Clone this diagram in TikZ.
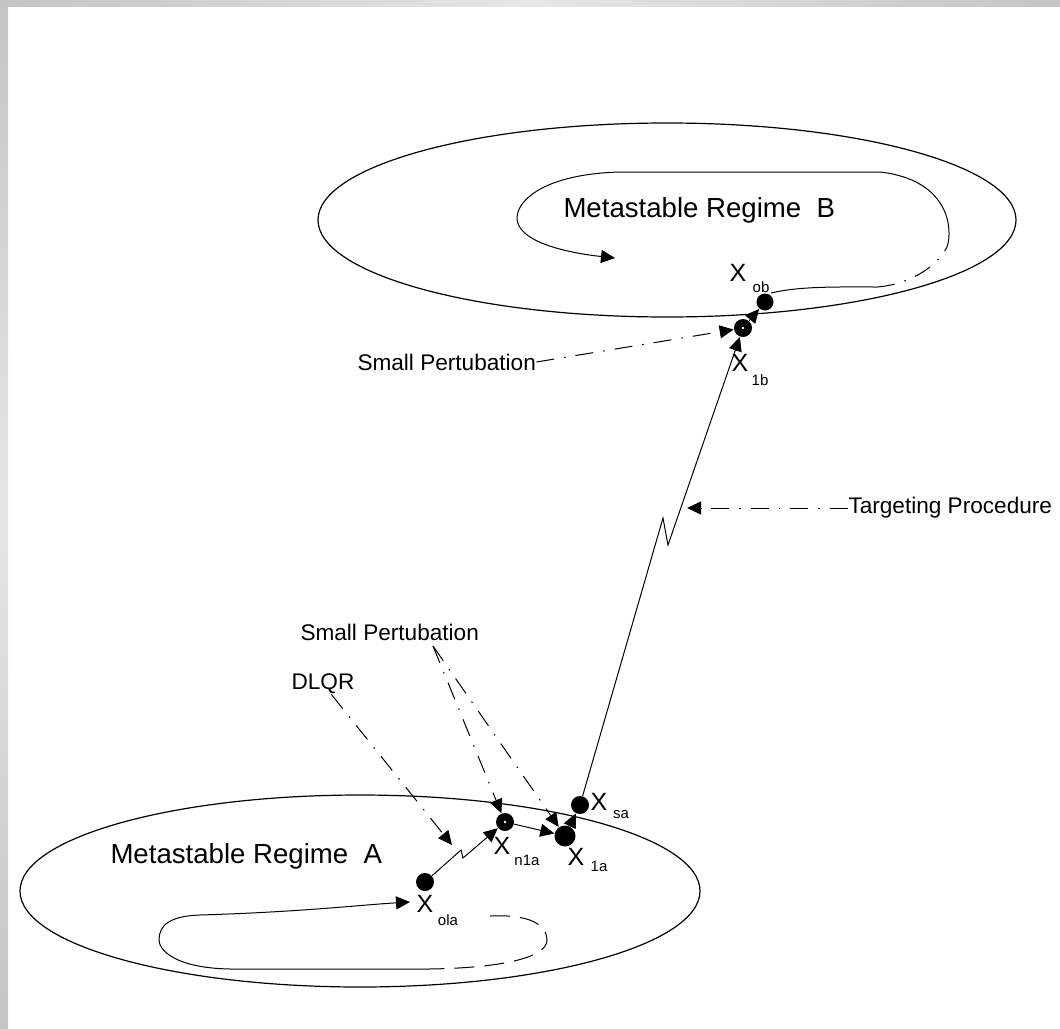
\documentclass[tikz,border=0pt]{standalone}
\usepackage{fontspec}
\setmainfont{Liberation Sans}
\usetikzlibrary{arrows.meta}

\definecolor{framegray}{RGB}{196,196,196}
\definecolor{framelight}{RGB}{230,230,230}

\tikzset{
  regime/.style={draw, line width=0.6pt},
  bigdot/.style={circle, fill=black, inner sep=0pt, minimum size=8.5pt},
  ringdot/.style={circle, fill=black, inner sep=0pt, minimum size=9pt,
    path picture={\fill[white] (path picture bounding box.center) circle (0.7pt);}},
  regtext/.style={font=\fontsize{13.8}{16}\selectfont, inner sep=0pt},
  note/.style={font=\fontsize{11.3}{13}\selectfont, inner sep=0pt},
  xlab/.style={font=\fontsize{12.5}{14}\selectfont, inner sep=0pt},
  sublab/.style={font=\fontsize{7.5}{9}\selectfont, inner sep=0pt},
  pertline/.style={dash pattern=on 9pt off 5pt on 0.8pt off 5pt},
  orbitdash/.style={dash pattern=on 10pt off 5pt}
}

\begin{document}
\begin{tikzpicture}[x=0.5pt, y=-0.5pt, line width=0.5pt,
    >={Triangle[length=7pt,width=6.5pt]}]

    \useasboundingbox (0,0) rectangle (1060,1028);

    % grey frame on the left and top
    \shade[top color=framegray, bottom color=framegray, middle color=framelight]
        (0,0) rectangle (8,1028);
    \shade[left color=framegray, right color=framegray, middle color=framelight]
        (0,0) rectangle (1060,6);

    % the two regimes
    \draw[regime] (667,220) ellipse [x radius=349, y radius=97];
    \draw[regime] (360,891) ellipse [x radius=340, y radius=96];

    \node[regtext, anchor=west] (regB) at (563,210) {Metastable Regime\ \ B};
    \node[regtext, anchor=west] (regA) at (110,856) {Metastable Regime\ \ A};

    % states
    \node[bigdot] (xob) at (765,302) {};
    \node[ringdot] (x1b) at (743,328) {};
    \node[bigdot, minimum size=9pt] (xsa) at (580,805) {};
    \node[bigdot, minimum size=10.5pt] (x1a) at (565,836) {};
    \node[ringdot] (xn1a) at (505,822) {};
    \node[bigdot, minimum size=9pt] (x0la) at (425,882) {};

    \node[xlab] (lob) at (738,273) {X};
    \node[sublab] at (761,287) {ob};
    \node[xlab] (l1b) at (740,363) {X};
    \node[sublab] at (760,380) {1b};
    \node[xlab] (lsa) at (599,802) {X};
    \node[sublab] at (621,815) {sa};
    \node[xlab] (l1a) at (576,857) {X};
    \node[sublab] at (599,866) {1a};
    \node[xlab] (ln1a) at (502,846) {X};
    \node[sublab] at (527,860) {n1a};
    \node[xlab] (l0la) at (425,904) {X};
    \node[sublab] at (448,920) {ola};

    % orbit in B
    \draw (771,293) .. controls (800,286) and (840,287) .. (877,287);
    \draw[pertline] (877,287) .. controls (905,285) and (935,270) .. (947,247);
    \draw[->] (947,247) .. controls (953,230) and (950,180) .. (880,172)
        -- (620,172) .. controls (545,174) and (517,200) .. (517,218)
        .. controls (517,240) and (560,252) .. (615,258);

    % orbit in A
    \draw[orbitdash] (490,916) .. controls (530,914) and (547,925) .. (547,940)
        .. controls (547,958) and (500,968) .. (429,969);
    \draw[->] (429,969) -- (230,969) .. controls (175,968) and (159,950) .. (159,940)
        .. controls (159,925) and (170,916) .. (200,915)
        .. controls (300,912) and (360,905) .. (410,902);

    % transfer
    \draw[->] (xsa) -- (663,518) -- (668,545) -- (x1b);
    \draw[->] (x1b) -- (xob);
    \draw[->] (x0la) -- (461,850) -- (463,858) -- (xn1a);
    \draw[->] (xn1a) -- (x1a);
    \draw[->] (x1a) -- (xsa);

    % annotations
    \node[note, anchor=west] (pertB) at (357,362) {Small Pertubation};
    \node[note, anchor=west] (target) at (848,508) {Targeting Procedure};
    \node[note, anchor=west] (pertA) at (300,632) {Small Pertubation};
    \node[note] (dlqr) at (323,684) {DLQR};

    \coordinate (tgttip) at (687,508);
    \coordinate (dlqrtip) at (452,845);
    \coordinate (pertfoot) at (433,646);

    \draw[->, pertline] (pertB.east) -- (x1b);
    \draw[->, pertline] (target.west) -- (tgttip);
    \draw[->, pertline] (dlqr) -- (dlqrtip);
    \draw[->, pertline] (pertfoot) -- (xn1a);
    \draw[->, pertline] (pertfoot) -- (x1a);

\end{tikzpicture}
\end{document}
